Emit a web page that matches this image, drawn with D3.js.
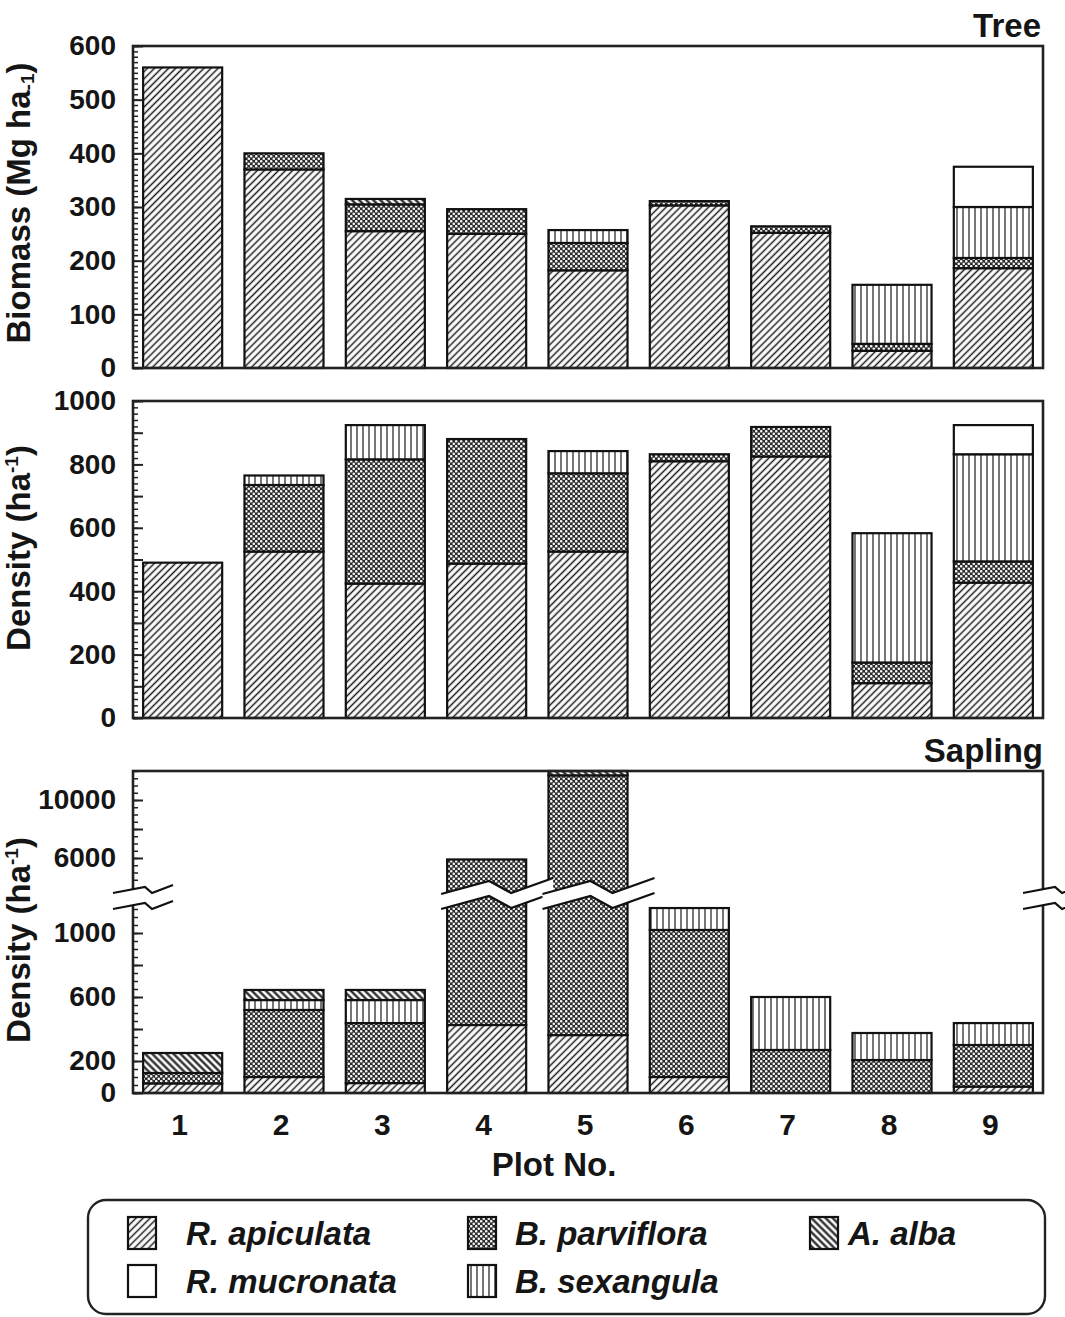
<!DOCTYPE html>
<html><head><meta charset="utf-8">
<script src="https://cdn.jsdelivr.net/npm/d3@7"></script>
<style>
body{margin:0;background:#fff}
svg{display:block}
text{font-family:"Liberation Sans",Arial,Helvetica,sans-serif;font-weight:bold;fill:#151515}
</style>
</head><body>
<svg id="c" width="1065" height="1317"></svg>
<script>
// ---------- DATA ----------
const plots = ["1","2","3","4","5","6","7","8","9"];
const speciesKeys = ["apiculata","parviflora","sexangula","alba","mucronata"];
const legendNames = ["R. apiculata","B. parviflora","A. alba","R. mucronata","B. sexangula"];
const legendKeys  = ["apiculata","parviflora","alba","mucronata","sexangula"];

// Tree biomass (Mg ha-1)
const biomassApiculata  = [560,370,255,250,182,303,252,32,186];
const biomassParviflora = [0,30,50,46,51,8,12,13,19];
const biomassSexangula  = [0,0,0,0,24,0,0,110,95];
const biomassAlba       = [0,0,10,0,0,0,0,0,0];
const biomassMucronata  = [0,0,0,0,0,0,0,0,75];

// Tree density (ha-1)
const treeApiculata  = [490,525,424,487,525,810,825,110,427];
const treeParviflora = [0,210,392,393,247,22,93,65,67];
const treeSexangula  = [0,30,108,0,70,0,0,408,338];
const treeAlba       = [0,0,0,0,0,0,0,0,0];
const treeMucronata  = [0,0,0,0,0,0,0,0,92];

// Sapling density (ha-1)
const sapApiculata  = [60,100,62,425,362,100,0,0,40];
const sapParviflora = [65,419,375,5475,11338,919,269,206,260];
const sapSexangula  = [0,62,144,0,0,137,331,169,137];
const sapAlba       = [125,63,63,0,300,0,0,0,0];
const sapMucronata  = [0,0,0,0,0,0,0,0,0];

const biomassTicks = [0,100,200,300,400,500,600];
const treeTicks = [0,200,400,600,800,1000];
const sapTicksLow = [0,200,600,1000];
const sapTicksHigh = [6000,10000];

// ---------- BUILD ----------
function rows(a,b,c,d,e){
  return plots.map((p,i)=>({plot:p,apiculata:a[i],parviflora:b[i],sexangula:c[i],alba:d[i],mucronata:e[i]}));
}
const biomassRows = rows(biomassApiculata,biomassParviflora,biomassSexangula,biomassAlba,biomassMucronata);
const treeRows = rows(treeApiculata,treeParviflora,treeSexangula,treeAlba,treeMucronata);
const sapRows = rows(sapApiculata,sapParviflora,sapSexangula,sapAlba,sapMucronata);

const svg = d3.select("#c");
const defs = svg.append("defs");

function linePattern(id, angle, step, sw){
  const p = defs.append("pattern").attr("id",id).attr("patternUnits","userSpaceOnUse")
    .attr("width",step).attr("height",step).attr("patternTransform",`rotate(${angle})`);
  p.append("rect").attr("width",step).attr("height",step).attr("fill","#fff");
  p.append("line").attr("x1",step/2).attr("x2",step/2).attr("y1",-1).attr("y2",step+1)
    .attr("stroke","#1a1a1a").attr("stroke-width",sw);
}
linePattern("p-apiculata",45,5,1.5);
linePattern("p-alba",-45,5,2.2);
linePattern("p-sexangula",0,6,1.2);
{
  const p = defs.append("pattern").attr("id","p-parviflora").attr("patternUnits","userSpaceOnUse")
    .attr("width",5).attr("height",5);
  p.append("rect").attr("width",5).attr("height",5).attr("fill","#2a2a2a");
  p.append("circle").attr("cx",1.25).attr("cy",1.25).attr("r",1.3).attr("fill","#f4f4f4");
  p.append("circle").attr("cx",3.75).attr("cy",3.75).attr("r",1.3).attr("fill","#f4f4f4");
}
const fills = {apiculata:"url(#p-apiculata)",parviflora:"url(#p-parviflora)",
  sexangula:"url(#p-sexangula)",alba:"url(#p-alba)",mucronata:"#fff"};

const X0 = 133, X1 = 1043;
const x = d3.scaleBand().domain(plots).range([X0,X1]).paddingInner(0.22).paddingOuter(0.1);
const stack = d3.stack().keys(speciesKeys);

function drawBars(data, y){
  const series = stack(data);
  const g = svg.append("g");
  series.forEach(s=>{
    g.append("g").selectAll("rect").data(s.filter(d=>d[1]-d[0]>0)).join("rect")
      .attr("x",d=>x(d.data.plot)).attr("width",x.bandwidth())
      .attr("y",d=>y(d[1])).attr("height",d=>y(d[0])-y(d[1]))
      .attr("fill",fills[s.key]).attr("stroke","#111").attr("stroke-width",2.2);
  });
}

function leftAxis(y, majors, minors, labels){
  svg.append("g").attr("transform",`translate(${X0},0)`)
    .call(d3.axisRight(y).tickValues(minors).tickSize(5).tickFormat(""))
    .call(g=>{g.select(".domain").remove(); g.selectAll("line").attr("stroke","#222").attr("stroke-width",1.5);});
  svg.append("g").attr("transform",`translate(${X0},0)`)
    .call(d3.axisRight(y).tickValues(majors).tickSize(10).tickFormat(""))
    .call(g=>{g.select(".domain").remove(); g.selectAll("line").attr("stroke","#222").attr("stroke-width",2);});
  svg.append("g").attr("transform",`translate(${X0},0)`)
    .call(d3.axisLeft(y).tickValues(labels).tickSize(0).tickPadding(17).tickFormat(d3.format("d")))
    .call(g=>{g.select(".domain").remove();
      g.selectAll("text").attr("font-size",28).attr("font-family","Liberation Sans, Arial, sans-serif")
       .attr("font-weight","bold").attr("fill","#151515");});
}

function frame(yTop,yBot){
  svg.append("rect").attr("x",X0).attr("y",yTop).attr("width",X1-X0).attr("height",yBot-yTop)
    .attr("fill","none").attr("stroke","#222").attr("stroke-width",2.6);
}

function yTitle(cx, cy, main, sup, isSub){
  const t = svg.append("text").attr("transform",`translate(${cx},${cy}) rotate(-90)`)
    .attr("text-anchor","middle").attr("font-size",33);
  t.append("tspan").text(main);
  t.append("tspan").attr("font-size",19).attr("baseline-shift",isSub?"-4":"12").text(sup);
  t.append("tspan").text(")");
}

// ---------- Panel 1: Tree biomass ----------
const y1 = d3.scaleLinear().domain([0,600]).range([368,46]);
drawBars(biomassRows, y1);
frame(46,368);
leftAxis(y1, biomassTicks, d3.range(0,601,10), biomassTicks);
yTitle(30, 203, "Biomass (Mg ha", "-1", true);
svg.append("text").attr("x",1041).attr("y",37).attr("text-anchor","end").attr("font-size",33).text("Tree");

// ---------- Panel 2: Tree density ----------
const y2 = d3.scaleLinear().domain([0,1000]).range([718,401]);
drawBars(treeRows, y2);
frame(401,718);
leftAxis(y2, d3.range(0,1001,100), d3.range(0,1001,20), treeTicks);
yTitle(30, 548, "Density (ha", "-1", false);

// ---------- Panel 3: Sapling density (broken axis) ----------
const y3 = d3.scaleLinear().domain([0,1200,4000,12000]).range([1093,901,887,771]);
drawBars(sapRows, y3);
frame(771,1093);
leftAxis(y3, [0,200,400,600,800,1000,6000,8000,10000],
  d3.range(0,1201,50).concat(d3.range(4500,12001,500)), sapTicksLow.concat(sapTicksHigh));
yTitle(30, 940, "Density (ha", "-1", false);
svg.append("text").attr("x",1043).attr("y",762).attr("text-anchor","end").attr("font-size",33).text("Sapling");

// break strips
function breakStrip(pts, thick){
  const upper = pts;
  const lower = pts.map(([px,py])=>[px,py+thick]);
  const g = svg.append("g");
  g.append("path").attr("d",d3.line()(upper.concat(lower.slice().reverse()))+"Z")
    .attr("fill","#fff").attr("stroke","none");
  [upper,lower].forEach(l=>g.append("path").attr("d",d3.line()(l))
    .attr("fill","none").attr("stroke","#111").attr("stroke-width",2.2));
}
const yb = y3(4000);
[X0, X1].forEach(ax=>{
  breakStrip([[ax-20,yb+6],[ax+12,yb],[ax+19,yb+6],[ax+40,yb-2]], 16);
});
sapRows.forEach(r=>{
  const tot = speciesKeys.reduce((s,k)=>s+r[k],0);
  if (tot > 4000){
    const bx = x(r.plot);
    breakStrip([[bx-6,yb+7],[bx+42,yb-6],[bx+64,yb+6],[bx+106,yb-9]], 15);
  }
});

// x labels
svg.append("g").selectAll("text").data(plots).join("text")
  .attr("x",d=>x(d)+x.bandwidth()/2-3).attr("y",1135).attr("text-anchor","middle")
  .attr("font-size",30).text(d=>d);
svg.append("text").attr("x",554).attr("y",1176).attr("text-anchor","middle").attr("font-size",33).text("Plot No.");

// ---------- Legend ----------
svg.append("rect").attr("x",88).attr("y",1200).attr("width",957).attr("height",114).attr("rx",18)
  .attr("fill","#fff").attr("stroke","#222").attr("stroke-width",2.4);
const legPos = [[128,1217],[468,1217],[810,1217],[128,1265],[468,1265]];
legendKeys.forEach((k,i)=>{
  const [lx,ly] = legPos[i];
  svg.append("rect").attr("x",lx).attr("y",ly).attr("width",28).attr("height",32)
    .attr("fill",fills[k]).attr("stroke","#111").attr("stroke-width",2.2);
  svg.append("text").attr("x",lx+(i===2?38:47)+ (i===0||i===3?11:0)).attr("y",ly+28)
    .attr("font-size",33).attr("font-style","italic").text(legendNames[i]);
});
</script>
</body></html>
